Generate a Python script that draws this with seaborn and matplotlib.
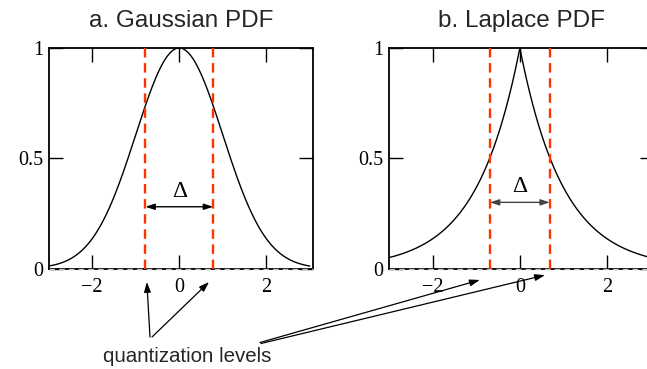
import numpy as np
import pandas as pd
import matplotlib
matplotlib.use("Agg")
import matplotlib.pyplot as plt
import seaborn as sns

# Panel text and axis ticks
panel_titles = ["a. Gaussian PDF", "b. Laplace PDF"]
x_ticks = [-2, 0, 2]
x_tick_labels = ["\u22122", "0", "2"]
y_ticks = [0, 0.5, 1]
y_tick_labels = ["0", "0.5", "1"]

# Densities (peak normalised to 1) and their parameters
gauss_sigma = 1.0
laplace_scale = 1.0
x_span = (-3.0, 3.0)

# Quantization levels and height of the step-size arrow in each panel
gauss_levels = [-0.78, 0.78]
laplace_levels = [-0.69, 0.69]
delta_heights = [0.28, 0.30]
note_text = "quantization levels"

sns.set_style("ticks")
plt.rcParams["font.family"] = ["Liberation Sans", "DejaVu Sans"]

RED = "#ff3300"
W, H = 647, 369

x = np.linspace(x_span[0], x_span[1], 1201)
curves = pd.DataFrame({
    "x": x,
    "gauss": np.exp(-x ** 2 / (2 * gauss_sigma ** 2)),
    "laplace": np.exp(-np.abs(x) / laplace_scale),
})

fig = plt.figure(figsize=(W / 100, H / 100), dpi=100)
ax_w, ax_h = 264.6 / W, 220.5 / H
ax_b = (H - 268.5) / H
axA = fig.add_axes([48.7 / W, ax_b, ax_w, ax_h])
axB = fig.add_axes([389.3 / W, ax_b, ax_w, ax_h])

panels = [
    (axA, "gauss", gauss_levels, delta_heights[0], "black"),
    (axB, "laplace", laplace_levels, delta_heights[1], "#444444"),
]

for i, (ax, col, levels, dh, arrow_col) in enumerate(panels):
    ax.axhline(0, color="#c4c4c4", lw=1.0, ls=(0, (4, 3)), zorder=4, clip_on=False)
    sns.lineplot(data=curves, x="x", y=col, ax=ax, color="black", lw=1.0, zorder=3)
    for lev in levels:
        ax.axvline(lev, color=RED, lw=1.7, ls=(0, (4.0, 2.4)), zorder=5)
    ax.annotate("", xy=(levels[1], dh), xytext=(levels[0], dh),
                arrowprops=dict(arrowstyle="<|-|>,head_length=0.55,head_width=0.18",
                                color=arrow_col, lw=1.0, shrinkA=0, shrinkB=0),
                zorder=6)
    ax.text(0, dh + 0.022, "\u0394", ha="center", va="bottom",
            fontsize=17, family="Liberation Serif", color="black")

    ax.set_xlim(-3.0, 3.08)
    ax.set_ylim(0, 1)
    ax.set_xticks(x_ticks)
    ax.set_xticklabels(x_tick_labels)
    ax.set_yticks(y_ticks)
    ax.set_yticklabels(y_tick_labels)
    ax.set_xlabel("")
    ax.set_ylabel("")
    ax.tick_params(axis="both", direction="in", length=10, width=1.0,
                   top=True, right=True, labelsize=14.5, colors="black")
    ax.tick_params(axis="x", pad=7)
    ax.tick_params(axis="y", pad=4)
    for lab in ax.get_xticklabels() + ax.get_yticklabels():
        lab.set_family("Liberation Serif")
    for sp in ax.spines.values():
        sp.set_visible(True)
        sp.set_linewidth(1.3)
        sp.set_color("black")
    ax.set_title(panel_titles[i], fontsize=17.5, pad=15)

# Pointers from the caption to the quantization levels
fig.text(103 / W, 7 / H, note_text, fontsize=14.8, ha="left", va="baseline")

arrow_kw = dict(arrowstyle="-|>,head_length=0.6,head_width=0.2",
                color="black", lw=0.9, shrinkA=0, shrinkB=0)
for (ax, tip, start) in [
    (axA, (gauss_levels[0] + 0.035, -0.061), (150, 32)),
    (axA, (gauss_levels[1] - 0.095, -0.061), (152, 32)),
    (axB, (-0.92, -0.052), (260, 26.5)),
    (axB, (0.577, -0.03), (261, 25.5)),
]:
    ax.annotate("", xy=tip, xycoords="data", xytext=start,
                textcoords="figure pixels", arrowprops=arrow_kw,
                annotation_clip=False)

fig.savefig("out.png", dpi=100)
